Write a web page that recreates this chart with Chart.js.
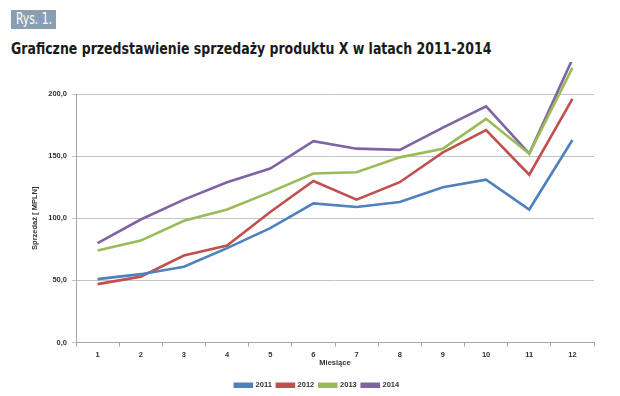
<!DOCTYPE html>
<html>
<head>
<meta charset="utf-8">
<script src="https://cdn.jsdelivr.net/npm/chart.js@4.4.0/dist/chart.umd.min.js"></script>
<style>
  body { margin: 0; background: #fff; width: 620px; height: 396px; position: relative; overflow: hidden; }
  .fig-label {
    position: absolute; left: 11px; top: 10px; width: 45px; height: 19px;
    background: #8a9fb2; color: #fff; font: 15px "DejaVu Sans Condensed", "DejaVu Sans", sans-serif;
    line-height: 19px; overflow: hidden; white-space: nowrap;
  }
  .fig-label span { display: inline-block; margin-left: 5px; transform: scaleX(0.8); transform-origin: left center; }
  .fig-title {
    position: absolute; left: 11px; top: 39px; color: #1a1a1a;
    font: bold 16px "DejaVu Sans Condensed", "DejaVu Sans", sans-serif;
    white-space: nowrap; transform: scaleX(0.87); transform-origin: left top;
  }
  .chart-box { position: absolute; left: 0; top: 62px; width: 620px; height: 334px; }
</style>
</head>
<body>
<div class="fig-label"><span>Rys. 1.</span></div>
<div class="fig-title">Graficzne przedstawienie sprzedaży produktu X w latach 2011-2014</div>
<div class="chart-box"><canvas id="sales-chart" width="620" height="334"></canvas></div>
<script>
// Miesiące 1..12
const months = ['1', '2', '3', '4', '5', '6', '7', '8', '9', '10', '11', '12'];

// Sprzedaż [MPLN] per rok
const sales2011 = [51, 55, 61, 76, 92, 112, 109, 113, 125, 131, 107, 163];
const sales2012 = [47, 53, 70, 78, 105, 130, 115, 129, 153, 171, 135, 196];
const sales2013 = [74, 82, 98, 107, 121, 136, 137, 149, 156, 180, 152, 221];
const sales2014 = [80, 99, 115, 129, 140, 162, 156, 155, 173, 190, 152, 228];

const yTicks = [0, 50, 100, 150, 200];

const colors = ['#4f81bd', '#c0504d', '#9bbb59', '#8064a2'];

function series(label, data, color) {
    return {
        label: label,
        data: data,
        borderColor: color,
        backgroundColor: color,
        borderWidth: 2.6,
        pointRadius: 0,
        tension: 0,
        clip: false
    };
}

const tickFont = { family: 'Liberation Sans, Arial, sans-serif', size: 7.5, weight: 'bold' };
const legendFont = { family: 'Liberation Sans, Arial, sans-serif', size: 7.5, weight: 'bold' };

new Chart(document.getElementById('sales-chart'), {
    type: 'line',
    data: {
        labels: months,
        datasets: [
            series('2011', sales2011, colors[0]),
            series('2012', sales2012, colors[1]),
            series('2013', sales2013, colors[2]),
            series('2014', sales2014, colors[3])
        ]
    },
    options: {
        responsive: false,
        animation: false,
        devicePixelRatio: 1,
        layout: { padding: { top: 32, right: 26, left: 40, bottom: -3 } },
        plugins: {
            legend: {
                position: 'bottom',
                labels: {
                    boxWidth: 17,
                    boxHeight: 3,
                    padding: 5,
                    color: '#333',
                    font: legendFont
                }
            },
            tooltip: { enabled: false }
        },
        scales: {
            x: {
                offset: true,
                grid: { offset: true, drawOnChartArea: false, tickLength: 4, color: '#a6a6a6' },
                border: { color: '#a6a6a6' },
                ticks: { color: '#333', font: tickFont, padding: 4, maxRotation: 0 },
                title: { display: true, text: 'Miesiące', color: '#333', font: tickFont, padding: { top: -5, bottom: 9 } }
            },
            y: {
                min: 0,
                max: 200,
                afterBuildTicks: (axis) => { axis.ticks = yTicks.map(v => ({ value: v })); },
                afterFit: (axis) => { axis.width = 36; },
                grid: { color: '#c4c4c4', tickLength: 4, lineWidth: 1 },
                border: { color: '#a6a6a6' },
                ticks: {
                    color: '#333',
                    font: tickFont,
                    padding: 5,
                    callback: (v) => Number(v).toFixed(1).replace('.', ',')
                },
                title: { display: true, text: 'Sprzedaż [ MPLN]', color: '#333', font: tickFont, padding: { top: -10, bottom: 4 } }
            }
        }
    }
});
</script>
</body>
</html>
